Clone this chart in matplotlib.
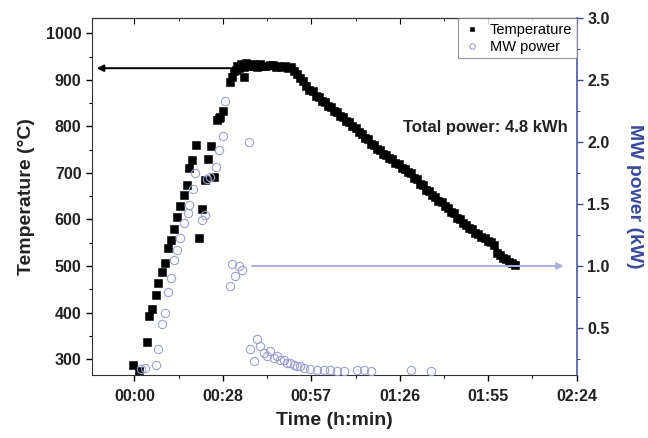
import matplotlib
matplotlib.use("Agg")
from matplotlib import pyplot as plt
from matplotlib.ticker import MultipleLocator, FixedLocator
import numpy as np

plt.rcParams["font.family"] = ["Liberation Sans", "DejaVu Sans"]

# time in minutes, temperature in degC
temp_time = [-0.3, 1.5, 4.0, 4.9, 5.8, 7.0, 7.8, 8.9, 9.9, 10.8, 11.9, 12.9, 14.0, 14.9,
             16.0, 17.1, 17.9, 18.9, 20.1, 21.0, 22.0, 23.1, 23.8, 24.9, 26.0, 26.9,
             27.5, 28.0, 29.0, 31.0, 31.8, 32.5, 33.0, 33.5, 34.1, 34.6, 35.0, 35.6,
             35.8, 36.3, 37.0, 37.7,
             38, 39, 40, 41, 42, 43, 44, 45, 46, 47, 48, 49, 50,
             51, 52, 53, 54, 55, 56, 57, 58, 59, 60, 61, 62, 63, 64, 65, 66, 67, 68,
             69, 70, 71, 72, 73, 74, 75, 76, 77, 78, 79, 80, 81, 82, 83, 84, 85, 86,
             87, 88, 89, 90, 91, 92, 93, 94, 95, 96, 97, 98, 99, 100, 101, 102, 103,
             104, 105, 106, 107, 108, 109, 110, 111, 112, 113, 114, 115, 116, 117,
             118, 119, 120, 121, 122, 123, 123.8]
temp_val = [288, 274, 336, 392, 408, 438, 463, 488, 506, 539, 556, 579, 606, 630,
            653, 675, 710, 728, 760, 561, 622, 685, 730, 757, 692, 814,
            818, 821, 832, 896, 907, 918, 921, 930, 925, 935, 931, 928,
            907, 937, 932, 930,
            929, 933, 928, 934, 930, 929, 932, 931, 928, 930, 927, 929, 925,
            927, 918, 913, 903, 898, 886, 879, 875, 866, 863, 855, 852, 844, 842,
            833, 830, 822, 820, 811, 809, 800, 796, 787, 784, 775, 772, 763, 760,
            752, 749, 741, 739, 731, 729, 721, 719, 711, 709, 701, 699, 690, 686,
            677, 674, 664, 661, 652, 649, 640, 637, 628, 625, 616, 613, 604, 601,
            592, 589, 581, 579, 571, 569, 562, 560, 553, 551, 545,
            527, 523, 517, 514, 508, 506, 503]

# time in minutes, microwave power in kW
power_time = [2.0, 3.5, 7.1, 7.8, 8.9, 10.0, 11.1, 11.9, 12.9, 14.0, 14.9, 16.0, 17.3,
              17.9, 19.0, 19.8, 22.0, 23.1, 23.6, 24.5, 26.7, 27.7, 28.8, 29.6, 37.2,
              31.0, 31.7, 32.9, 33.9, 35.0,
              37.7, 38.8, 39.9, 41.0, 42.1, 43.2, 44.3, 45.3, 46.4, 47.5, 48.6, 49.7,
              50.8, 51.9, 53.0, 54.0, 55.1, 57.3, 59.5, 61.6, 63.8, 66.0, 68.2, 72.5,
              74.7, 76.9, 89.9, 96.4]
power_val = [0.17, 0.18, 0.20, 0.33, 0.53, 0.62, 0.79, 0.90, 1.05, 1.13, 1.23, 1.35, 1.43,
             1.49, 1.62, 1.75, 1.37, 1.41, 1.70, 1.72, 1.80, 1.94, 2.05, 2.33, 2.00,
             0.84, 1.02, 0.92, 1.00, 0.97,
             0.33, 0.23, 0.41, 0.35, 0.30, 0.27, 0.31, 0.26, 0.27, 0.24, 0.24, 0.22,
             0.22, 0.20, 0.19, 0.19, 0.18, 0.17, 0.16, 0.16, 0.16, 0.15, 0.15, 0.16,
             0.16, 0.15, 0.16, 0.15]

tick_pos = [0, 28.8, 57.6, 86.4, 115.2, 144]
tick_lbl = ["00:00", "00:28", "00:57", "01:26", "01:55", "02:24"]

blue = "#3a4a9c"
pcol = "#9aa1d2"
tcol = "#222222"

fig = plt.figure(figsize=(6.48, 4.38), dpi=100)
ax = fig.add_axes([0.142, 0.144, 0.748, 0.814])
ax2 = ax.twinx()

ax.plot(temp_time, temp_val, ls="none", marker="s", ms=5.4, mfc="black", mec="black",
        mew=0.4, label="Temperature")
ax2.plot(power_time, power_val, ls="none", marker="o", ms=6, mfc="none", mec=pcol,
         mew=0.8, label="MW power")

ax.set_xlim(-13.8, 144)
ax.set_ylim(266, 1032)
ax2.set_ylim(0.12, 3.0)

ax.xaxis.set_major_locator(FixedLocator(tick_pos))
ax.xaxis.set_minor_locator(MultipleLocator(14.4))
ax.set_xticklabels(tick_lbl)
ax.yaxis.set_major_locator(MultipleLocator(100))
ax.yaxis.set_minor_locator(MultipleLocator(50))
ax2.yaxis.set_major_locator(MultipleLocator(0.5))
ax2.yaxis.set_minor_locator(MultipleLocator(0.25))
ax2.yaxis.set_major_formatter(matplotlib.ticker.FormatStrFormatter("%.1f"))

for a in (ax, ax2):
    a.tick_params(which="major", length=4, width=1, direction="out", labelsize=11.5,
                  labelcolor=tcol)
    a.tick_params(which="minor", length=2.5, width=0.8, direction="out")
ax.tick_params(axis="x", pad=6)
for lab in ax.get_xticklabels() + ax.get_yticklabels() + ax2.get_yticklabels():
    lab.set_fontweight("bold")

# inward ticks on top spine
top = ax.secondary_xaxis("top")
top.xaxis.set_major_locator(FixedLocator(tick_pos))
top.xaxis.set_minor_locator(MultipleLocator(14.4))
top.tick_params(which="major", direction="in", length=4, labeltop=False)
top.tick_params(which="minor", direction="in", length=2.5)
top.set_xticklabels([])

for s in ["left", "top", "bottom"]:
    ax.spines[s].set_color("#333333")
    ax2.spines[s].set_visible(False)
ax.spines["right"].set_visible(False)
ax2.spines["right"].set_color(blue)
ax2.spines["right"].set_linewidth(1.1)
ax2.tick_params(axis="y", which="both", color=blue)

ax.set_xlabel("Time (h:min)", fontsize=14, fontweight="bold", color=tcol, labelpad=6)
ax.set_ylabel("Temperature (°C)", fontsize=14, fontweight="bold", color=tcol, labelpad=8)
ax2.set_ylabel("MW power (kW)", fontsize=14, fontweight="bold", color=blue,
               rotation=270, labelpad=24)

ax.annotate("", xy=(-12.3, 925), xytext=(31, 925),
            arrowprops=dict(arrowstyle="-|>", color="black", lw=1.4,
                            mutation_scale=10, shrinkA=0, shrinkB=0))
ax2.annotate("", xy=(139.8, 1.0), xytext=(38.3, 1.0),
             arrowprops=dict(arrowstyle="-|>", color="#a9b0db", lw=1.4,
                             mutation_scale=10, shrinkA=0, shrinkB=0))

ax.text(87.6, 797, "Total power: 4.8 kWh", fontsize=12, fontweight="bold",
        color=tcol, va="center", ha="left")

h1, l1 = ax.get_legend_handles_labels()
h2, l2 = ax2.get_legend_handles_labels()
leg = ax2.legend(h1 + h2, l1 + l2, loc="upper right", bbox_to_anchor=(1, 1),
                 borderaxespad=0, fancybox=False, edgecolor="#777777",
                 fontsize=10.5, handlelength=1.3, handletextpad=0.6,
                 borderpad=0.3, labelspacing=0.2, markerscale=0.65)
leg.get_frame().set_linewidth(0.8)

fig.savefig("out.png", dpi=100)
